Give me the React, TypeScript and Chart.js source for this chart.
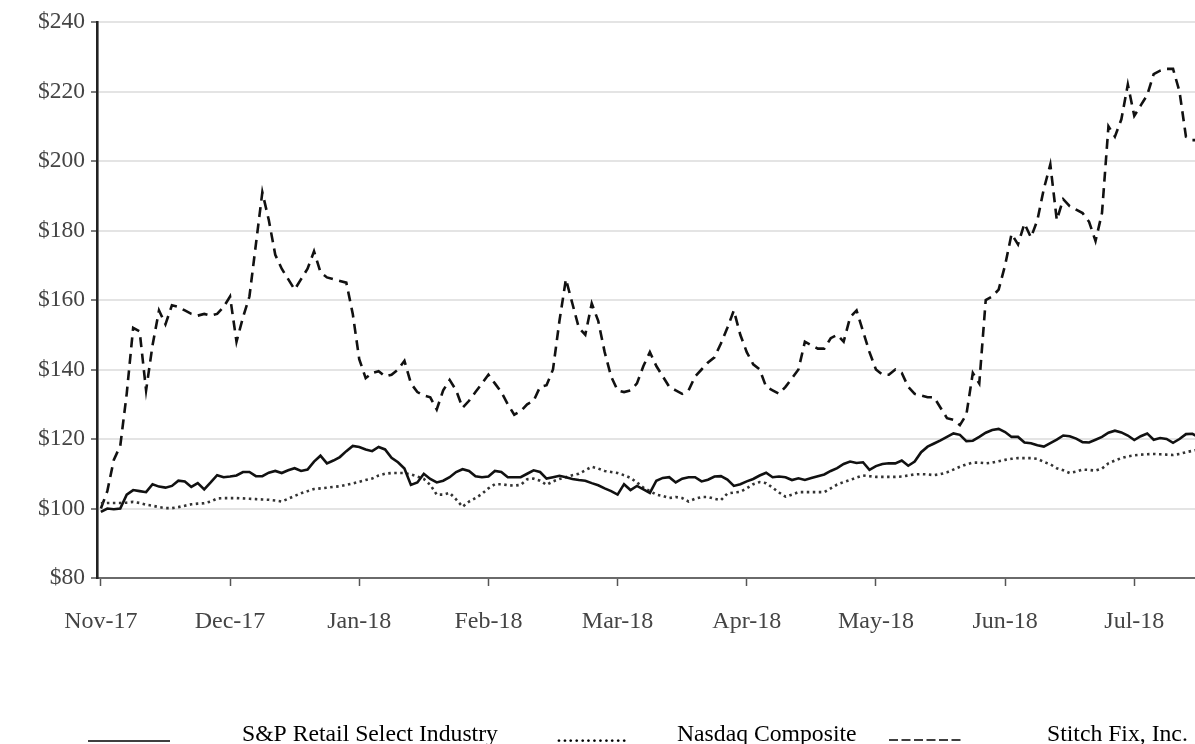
import React, { useEffect, useRef } from "react";
import { Chart, registerables } from "chart.js";

Chart.register(...registerables);

const monthLabels = ["Nov-17", "Dec-17", "Jan-18", "Feb-18", "Mar-18", "Apr-18", "May-18", "Jun-18", "Jul-18"];
const pointsPerMonth = 20;
const seriesNames = ["S&P Retail Select Industry", "Nasdaq Composite", "Stitch Fix, Inc."];
const yTickValues = [80, 100, 120, 140, 160, 180, 200, 220, 240];

const retailSelect = [
  99, 100, 99.8, 100, 104, 105.3, 105, 104.7, 107, 106.3,
  106, 106.5, 108, 107.8, 106.2, 107.3, 105.5, 107.5, 109.6, 109,
  109.2, 109.5, 110.5, 110.5, 109.3, 109.3, 110.3, 110.8, 110.2, 111,
  111.6, 110.8, 111.2, 113.5, 115.2, 113, 113.8, 114.8, 116.5, 118,
  117.7, 117, 116.5, 117.7, 117, 114.6, 113.3, 111.5, 106.8, 107.5,
  110, 108.5, 107.5, 108, 109, 110.5, 111.3, 110.8, 109.3, 109,
  109.2, 110.8, 110.5, 109, 109, 109, 110, 111, 110.5, 108.6,
  109, 109.4, 109, 108.5, 108.2, 108, 107.3, 106.7, 105.8, 105,
  104, 107, 105.3, 106.5, 105.5, 104.5, 108, 108.8, 109, 107.5,
  108.6, 109, 109, 107.8, 108.3, 109.2, 109.3, 108.3, 106.5, 107,
  107.8, 108.5, 109.5, 110.3, 109, 109.2, 109, 108.2, 108.7, 108.2,
  108.8, 109.3, 109.8, 110.8, 111.6, 112.8, 113.5, 113.1, 113.3, 111.1,
  112.2, 112.8, 113, 113, 113.8, 112.3, 113.5, 116.2, 117.8, 118.7,
  119.6, 120.6, 121.6, 121.2, 119.4, 119.5, 120.6, 121.8, 122.6, 122.9,
  122, 120.6, 120.6, 119, 118.8, 118.2, 117.8, 118.8, 119.8, 121,
  120.8, 120.1, 119.1, 119, 119.8, 120.6, 121.8, 122.4, 121.9, 121,
  119.7, 120.8, 121.6, 119.8, 120.3, 120, 118.9, 120, 121.4, 121.5,
  120.5,
];

const nasdaqComposite = [
  101.5, 101.6, 101.6, 101.6, 101.7, 101.9, 101.6, 101.1, 100.8, 100.4,
  100.1, 100.1, 100.4, 100.8, 101.2, 101.4, 101.5, 102, 102.9, 103,
  103, 103, 102.9, 102.8, 102.7, 102.6, 102.5, 102.3, 102, 102.8,
  103.6, 104.4, 105, 105.6, 105.8, 106, 106.2, 106.4, 106.8, 107.2,
  107.7, 108.2, 108.6, 109.5, 110, 110.2, 110.2, 110.2, 109.8, 109.2,
  108.5, 106.8, 104, 104, 104.5, 102.6, 100.5, 102, 103, 104.2,
  105.8, 107, 107, 106.7, 106.6, 106.8, 108.4, 108.6, 108, 106.8,
  107.8, 108.5, 109, 109.6, 110, 111, 112, 111.5, 110.8, 110.5,
  110.2, 109.6, 108.8, 107.5, 106, 105, 104, 103.6, 103, 103.3,
  103, 102, 102.8, 103.3, 103.3, 102.8, 102.4, 104.3, 104.6, 104.8,
  105.8, 107, 107.6, 107.3, 106, 104.6, 103.4, 104, 104.7, 104.7,
  104.7, 104.7, 104.7, 105.8, 106.9, 107.6, 108.2, 108.9, 109.5, 109.3,
  109.1, 109.1, 109.1, 109.1, 109.2, 109.5, 109.8, 109.9, 109.8, 109.6,
  109.9, 110.4, 111.2, 112, 112.7, 113.2, 113.2, 113, 113.2, 113.6,
  114, 114.3, 114.5, 114.5, 114.5, 114.3, 113.4, 112.7, 111.6, 111,
  110.2, 110.6, 111.2, 111.1, 110.9, 111.5, 113, 113.8, 114.5, 115,
  115.3, 115.5, 115.6, 115.7, 115.6, 115.5, 115.4, 115.7, 116.2, 116.6,
  117,
];

const stitchFix = [
  100, 105, 114, 118, 133, 152, 151, 134, 147, 157,
  153, 158.5, 158, 157, 156, 155.5, 156, 155.5, 156, 158,
  161, 148, 155, 161, 176, 191, 183, 173, 169, 166,
  163, 166, 169, 174, 168, 166.5, 166, 165.5, 165, 156,
  143, 137.5, 139, 139.5, 138, 138.5, 140, 142.5, 136, 133.5,
  132.5, 132, 128.5, 134, 137, 134, 129, 131, 133.5, 136,
  138.5, 136, 133.5, 130, 127, 128, 130, 131, 135, 135.5,
  140, 154, 166, 159, 152, 150, 159, 154, 145, 138,
  134, 133.5, 134, 136, 141, 145, 141, 138, 135, 134,
  133, 134, 138, 140, 142, 143.5, 147.5, 152, 157, 150,
  145, 141.5, 140, 135, 134, 133, 135, 137.5, 140, 148,
  147, 146, 146, 149, 150, 148, 155, 157, 151, 145,
  140, 138.5, 138.5, 140, 139, 135, 133, 132.5, 132, 132,
  129, 126, 125.5, 124, 127, 139, 136, 160, 161, 163,
  170, 179, 176, 182, 178, 183, 192, 199, 183, 189,
  187, 186, 185, 182.5, 177, 185, 210, 207, 212, 222,
  213, 216, 219, 225, 226, 226.5, 226.5, 220, 207, 206,
  206,
];

const FONT = '"Liberation Serif", "Times New Roman", serif';

const bottomLegend = {
  id: "bottomLegend",
  afterDraw(chart: any) {
    const ctx = chart.ctx as CanvasRenderingContext2D;
    const names = chart.data.datasets.map((d: any) => d.label);
    ctx.save();
    ctx.fillStyle = "#000";
    ctx.strokeStyle = "#000";
    ctx.font = `23.7px ${FONT}`;
    ctx.textBaseline = "alphabetic";
    ctx.textAlign = "left";
    const baseY = 741;

    // solid sample
    ctx.lineWidth = 1.5;
    ctx.setLineDash([]);
    ctx.beginPath();
    ctx.moveTo(88, baseY);
    ctx.lineTo(170, baseY);
    ctx.stroke();
    ctx.fillText(names[0], 242, baseY);

    // dotted sample
    ctx.fillText("............", 556, baseY + 1);
    ctx.fillText(names[1], 677, baseY);

    // dashed sample
    ctx.setLineDash([9, 3.5]);
    ctx.beginPath();
    ctx.moveTo(889, baseY - 1);
    ctx.lineTo(962, baseY - 1);
    ctx.stroke();
    ctx.setLineDash([]);
    ctx.fillText(names[2], 1047, baseY);
    ctx.restore();
  },
};

export default function App() {
  const canvasRef = useRef<HTMLCanvasElement | null>(null);

  useEffect(() => {
    const canvas = canvasRef.current;
    if (!canvas) return;
    const toPoints = (arr: number[]) => arr.map((v, i) => ({ x: i, y: v }));
    const chart = new Chart(canvas, {
      type: "line",
      data: {
        datasets: [
          {
            label: seriesNames[0],
            data: toPoints(retailSelect),
            borderColor: "#111",
            borderWidth: 2.6,
            pointRadius: 0,
            tension: 0,
          },
          {
            label: seriesNames[1],
            data: toPoints(nasdaqComposite),
            borderColor: "#333",
            borderWidth: 2.6,
            borderDash: [2.5, 3.5],
            pointRadius: 0,
            tension: 0,
          },
          {
            label: seriesNames[2],
            data: toPoints(stitchFix),
            borderColor: "#111",
            borderWidth: 2.6,
            borderDash: [10, 6.5],
            pointRadius: 0,
            tension: 0,
          },
        ],
      },
      options: {
        animation: false,
        responsive: false,
        devicePixelRatio: 1,
        layout: { padding: { top: 22, right: 0, bottom: 0, left: 0 } },
        plugins: { legend: { display: false }, tooltip: { enabled: false } },
        scales: {
          x: {
            type: "linear",
            min: -0.6,
            max: 169.4,
            afterFit: (scale: any) => {
              scale.height = 166;
            },
            afterBuildTicks: (scale: any) => {
              scale.ticks = monthLabels.map((_, m) => ({ value: m * pointsPerMonth }));
            },
            grid: {
              display: true,
              drawOnChartArea: false,
              drawTicks: true,
              tickLength: 8,
              tickColor: "#555",
              tickWidth: 1.5,
            },
            border: { display: true, color: "#6a6a6a", width: 2 },
            ticks: {
              autoSkip: false,
              maxRotation: 0,
              padding: 21,
              color: "#444",
              font: { family: FONT, size: 24 },
              callback: (v: any) => monthLabels[Math.round(Number(v) / pointsPerMonth)] ?? "",
            },
          },
          y: {
            type: "linear",
            min: 80,
            max: 240,
            afterFit: (scale: any) => {
              scale.width = 97;
            },
            afterBuildTicks: (scale: any) => {
              scale.ticks = yTickValues.map((v) => ({ value: v }));
            },
            grid: {
              color: "#e4e4e4",
              lineWidth: 2,
              tickColor: "#555",
              tickLength: 6,
              tickWidth: 1.5,
            },
            border: { display: true, color: "#222", width: 2.6 },
            ticks: {
              padding: 6,
              color: "#444",
              font: { family: FONT, size: 23.5 },
              callback: (v: any) => "$" + v,
            },
          },
        },
      },
      plugins: [bottomLegend],
    });
    return () => chart.destroy();
  }, []);

  return (
    <div style={{ position: "fixed", left: 0, top: 0, width: 1195, height: 744, background: "#fff" }}>
      <canvas ref={canvasRef} width={1195} height={744} style={{ display: "block" }} />
    </div>
  );
}
